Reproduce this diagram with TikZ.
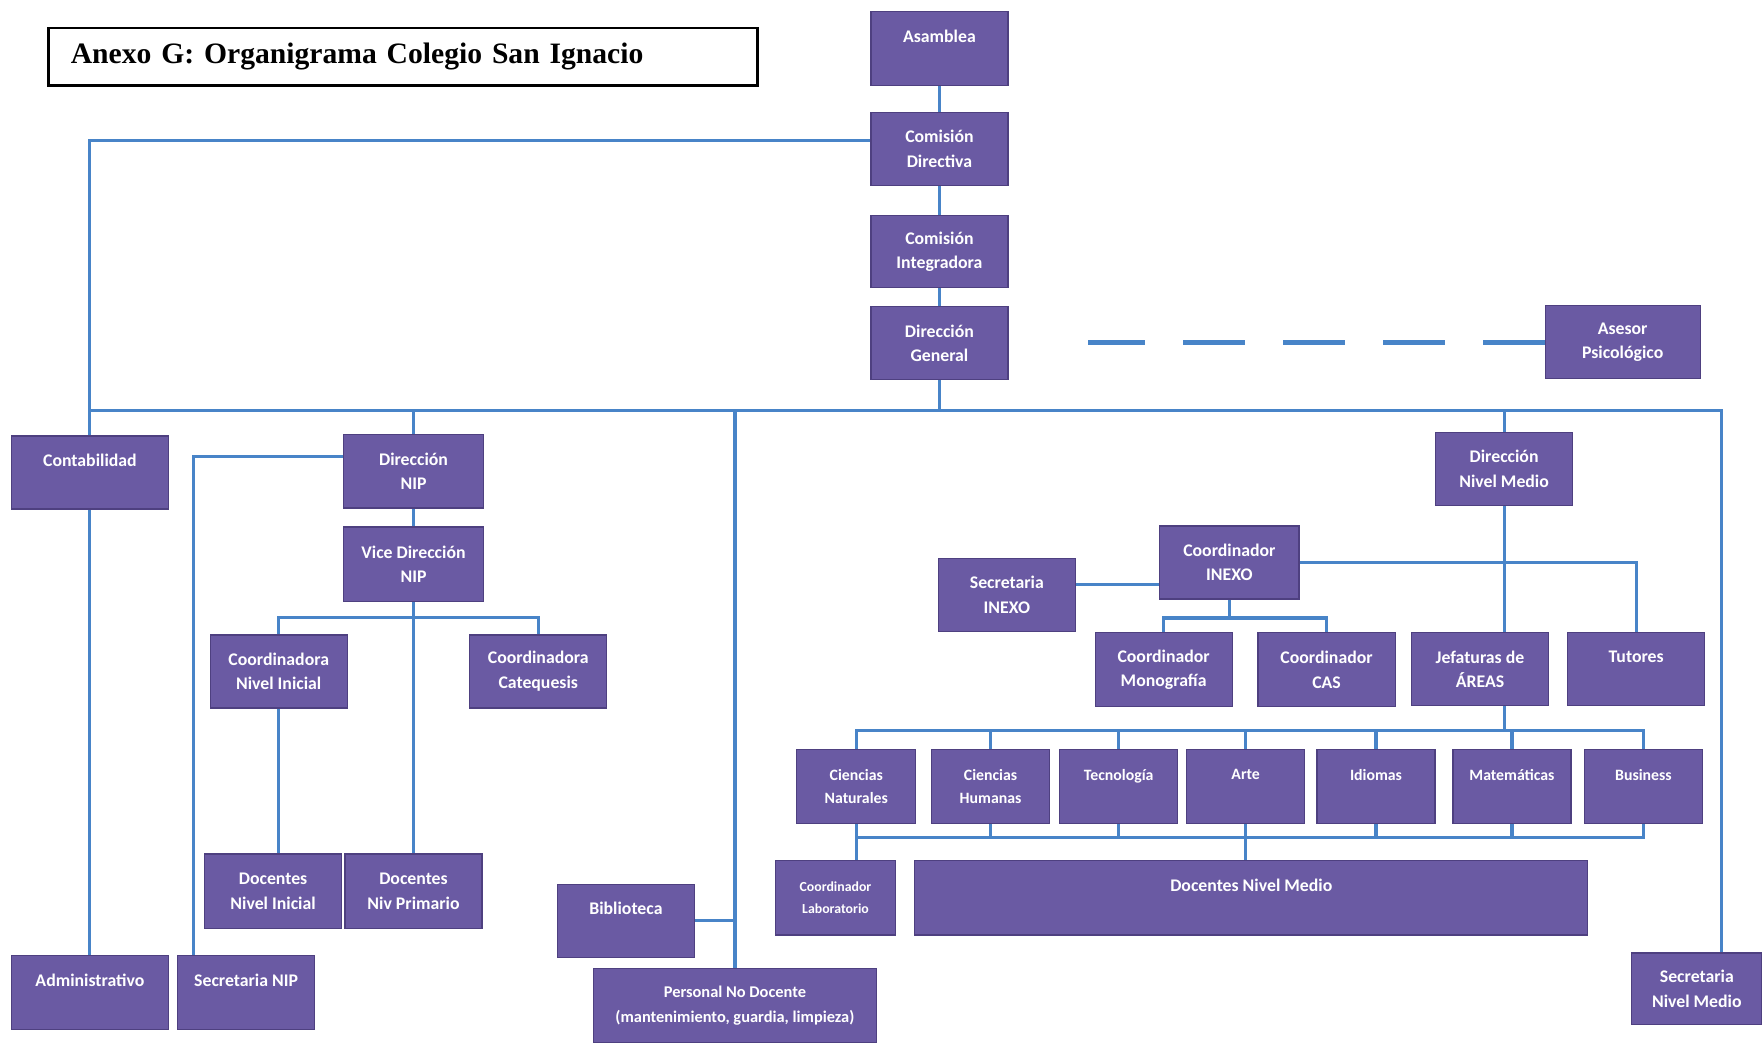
\documentclass[tikz,border=0pt]{standalone}
\usepackage{fontspec}
\setmainfont{Liberation Serif}
\newfontfamily\cajafont{Carlito}
\usepackage{tikz}
\usetikzlibrary{positioning,backgrounds}

\definecolor{morado}{RGB}{106,90,163}
\definecolor{moradoosc}{RGB}{78,64,128}
\definecolor{azullinea}{RGB}{72,132,200}

\tikzset{
  cargo/.style={rectangle, fill=morado, draw=moradoosc, line width=0.6pt,
    text=white, align=center, inner sep=1pt,
    font=\cajafont\bfseries\fontsize{9}{12.5}\selectfont,
    minimum width=2.44cm, minimum height=1.3cm},
  area/.style={cargo, minimum width=2.1cm, minimum height=1.32cm,
    font=\cajafont\bfseries\fontsize{8}{12}\selectfont},
  enlace/.style={draw=azullinea, line width=1.6pt},
  discont/.style={enlace, line width=2.4pt, dash pattern=on 1.1cm off 0.68cm}
}

\begin{document}
\begin{tikzpicture}[x=0.02cm, y=-0.02cm]
		\useasboundingbox (0,0) rectangle (1568,929);

		% Titulo
		\node[draw, line width=1.2pt, anchor=west, minimum height=1.02cm, text width=11.82cm, inner xsep=0.4cm, align=left,
			font=\bfseries\fontsize{15}{18}\selectfont] (titulo) at (42,50.5) {Anexo G: Organigrama Colegio San Ignacio};

		% Eje central
		\node[cargo, minimum height=1.32cm] (asamblea) at (836,43) {Asamblea\\~};
		\node[cargo] (cdirectiva) at (836,132.5) {Comisión\\Directiva};
		\node[cargo, minimum height=1.28cm] (cintegradora) at (836,224) {Comisión\\Integradora};
		\node[cargo] (dgeneral) at (836,305.5) {Dirección\\General};
		\node[cargo, minimum width=2.76cm] (asesor) at (1444,304.5) {Asesor\\Psicológico};

		% Nivel Inicial y Primario (NIP)
		\node[cargo, minimum width=2.8cm] (contab) at (80,420.5) {Contabilidad\\~};
		\node[cargo, minimum width=2.48cm] (dnip) at (368,419.5) {Dirección\\NIP};
		\node[cargo, minimum width=2.48cm, minimum height=1.32cm] (vdnip) at (368,502) {Vice Dirección\\NIP};
		\node[cargo] (cninicial) at (248,597.5) {Coordinadora\\Nivel Inicial};
		\node[cargo] (ccatequesis) at (479,597.5) {Coordinadora\\Catequesis};
		\node[cargo, minimum height=1.32cm] (dninicial) at (243,793) {Docentes\\Nivel Inicial};
		\node[cargo, minimum height=1.32cm] (dprimario) at (368,793) {Docentes\\Niv Primario};
		\node[cargo, minimum width=2.8cm, minimum height=1.32cm] (admin) at (80,883) {Administrativo\\~};
		\node[cargo, minimum height=1.32cm] (snip) at (219,883) {Secretaria NIP\\~};
		\node[cargo] (biblio) at (557,819.5) {Biblioteca\\~};
		\node[cargo, minimum width=5.04cm, minimum height=1.32cm, font=\cajafont\bfseries\fontsize{8.3}{12.5}\selectfont]
			(pnodocente) at (654,895) {Personal No Docente\\(mantenimiento, guardia, limpieza)};

		% Nivel Medio
		\node[cargo] (dnmedio) at (1338.5,417.5) {Dirección\\Nivel Medio};
		\node[cargo, minimum width=2.48cm] (cinexo) at (1094,500.5) {Coordinador\\INEXO};
		\node[cargo] (sinexo) at (896,529.5) {Secretaria\\INEXO};
		\node[cargo, minimum height=1.32cm] (cmonografia) at (1035.5,596) {Coordinador\\Monografía};
		\node[cargo, minimum height=1.32cm] (ccas) at (1180.5,596) {Coordinador\\CAS};
		\node[cargo] (jefaturas) at (1317,595.5) {Jefaturas de\\ÁREAS};
		\node[cargo] (tutores) at (1456,595.5) {Tutores\\~};

		% Areas
		\node[area, minimum width=2.12cm] (cnaturales) at (762,700) {Ciencias\\Naturales};
		\node[area] (chumanas) at (881.5,700) {Ciencias\\Humanas};
		\node[area] (tecnologia) at (995.5,700) {Tecnología\\~};
		\node[area] (arte) at (1108.5,700) {Arte\\~};
		\node[area] (idiomas) at (1224.5,700) {Idiomas\\~};
		\node[area] (matematicas) at (1345.5,700) {Matemáticas\\~};
		\node[area] (business) at (1462.5,700) {Business\\~};
		\node[cargo, minimum width=2.14cm, minimum height=1.32cm, font=\cajafont\bfseries\fontsize{7}{11}\selectfont]
			(clab) at (743.5,799) {Coordinador\\Laboratorio};
		\node[cargo, minimum width=11.98cm, minimum height=1.32cm] (docnmedio) at (1113.5,799) {Docentes Nivel Medio\\~};
		\node[cargo, minimum width=2.32cm, minimum height=1.28cm] (snmedio) at (1510,880) {Secretaria\\Nivel Medio};

		% Conexiones
		\begin{scope}[on background layer]
			\coordinate (busizq) at (80,365);
			\coordinate (busder) at (1532,365);
			\coordinate (codosnip) at (172,406);
			\coordinate (ramainexo) at (1094,550);
			\coordinate (busareas) at (1100,650);
			\coordinate (busdocentes) at (1100,745);
			\coordinate (finasesor) at (968,307);

			\draw[enlace] (asamblea) -- (cdirectiva) -- (cintegradora) -- (dgeneral);
			\draw[enlace] ([yshift=0.15cm]cdirectiva.west) -| (busizq) -- (contab);
			\draw[enlace] (contab) -- (admin);
			\draw[enlace] (busizq) -- (busder) -- (busder |- snmedio.north);
			\draw[enlace] (dgeneral) -- (dgeneral |- busizq);
			\draw[enlace] (dnip) -- (dnip |- busizq);
			\draw[enlace] (dnmedio) -- (dnmedio |- busizq);
			\draw[enlace] (pnodocente) -- (pnodocente |- busizq);
			\draw[enlace] (biblio) -- (biblio -| pnodocente);
			\draw[discont] (asesor.west) -- (asesor.west -| finasesor);

			% NIP
			\draw[enlace] (dnip.west |- codosnip) -- (codosnip) -- (codosnip |- snip.north);
			\draw[enlace] (dnip) -- (vdnip) -- (dprimario);
			\draw[enlace] (cninicial.north) -- ++(0,-15) -| (ccatequesis.north);
			\draw[enlace] (cninicial) -- (cninicial |- dninicial.north);

			% Nivel Medio
			\draw[enlace] (dnmedio) -- (dnmedio |- busareas);
			\draw[enlace] ([yshift=0.18cm]sinexo.east) -- ([yshift=0.18cm]sinexo.east -| cinexo.west);
			\draw[enlace] (cinexo.east) -| (tutores.north);
			\draw[enlace] (cinexo) -- (ramainexo);
			\draw[enlace] (cmonografia.north) |- (ramainexo) -| (ccas.north);

			% Areas
			\draw[enlace] (cnaturales.north) -- (cnaturales.north |- busareas) -- (busareas -| business.north) -- (business.north);
			\draw[enlace] (cnaturales.south) -- (cnaturales.south |- busdocentes) -- (busdocentes -| business.south) -- (business.south);
			\foreach \a in {chumanas,tecnologia,arte,idiomas,matematicas}{
				\draw[enlace] (\a.north) -- (\a.north |- busareas);
				\draw[enlace] (\a.south) -- (\a.south |- busdocentes);
			}
			\draw[enlace] (cnaturales.south |- busdocentes) -- (cnaturales.south |- clab.north);
			\draw[enlace] (arte) -- (arte |- docnmedio.north);
		\end{scope}
	\end{tikzpicture}
\end{document}
